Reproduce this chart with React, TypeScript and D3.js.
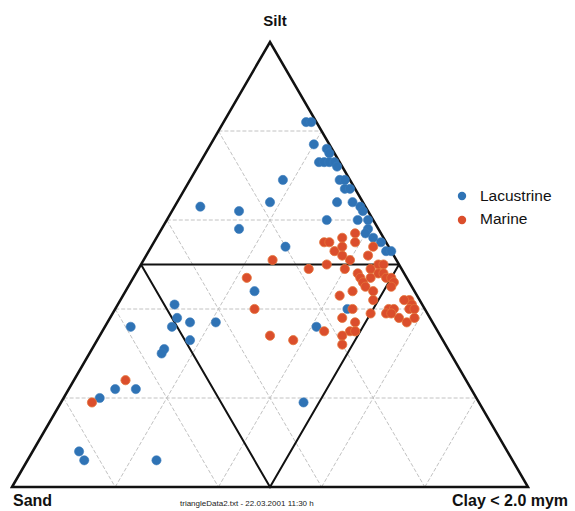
import React from "react";
import * as d3 from "d3";

// Ternary compositions in percent: [sand, silt, clay]
const lacustrine: [number, number, number][] = [
  [2, 82, 16], [1, 82, 17], [3, 77, 20], [1, 76, 23], [1, 75, 24],
  [4, 73, 23], [3, 73, 24], [2, 73, 25], [1, 73, 26], [1, 72, 27],
  [13, 69, 18], [2, 69, 29], [1, 69, 30], [2, 67, 31], [1, 67, 32],
  [5, 64, 31], [2, 64, 34], [1, 63, 36], [1, 62, 37], [9, 60, 31],
  [3, 60, 37], [1, 60, 39], [2, 58, 40], [3, 57, 40], [2, 56, 42],
  [1, 55, 44], [1, 53, 46], [0, 53, 47], [20, 54, 26], [18, 64, 18],
  [32, 63, 5], [25, 62, 13], [27, 58, 15], [31, 44, 25], [48, 41, 11],
  [49, 38, 13], [47, 37, 16], [59, 36, 5], [51, 36, 13], [42, 37, 21],
  [49, 33, 18], [55, 31, 14], [56, 30, 14], [69, 22, 9], [65, 22, 13],
  [73, 20, 7], [83, 8, 9], [83, 6, 11], [69, 6, 25], [23, 36, 41],
  [15, 40, 45], [34, 19, 47],
];

const marine: [number, number, number][] = [
  [12, 55, 33], [11, 55, 34], [8, 56, 36], [5, 57, 38], [6, 55, 39],
  [11, 53, 36], [9, 54, 37], [10, 52, 38], [9, 51, 40], [3, 54, 43],
  [5, 52, 43], [18, 49, 33], [14, 50, 36], [11, 49, 40], [9, 48, 43],
  [6, 49, 45], [4, 50, 46], [3, 50, 47], [5, 48, 47], [4, 48, 48],
  [7, 47, 46], [9, 47, 44], [9, 46, 45], [4, 47, 49], [3, 47, 50],
  [3, 46, 51], [12, 44, 44], [9, 45, 46], [4, 45, 51], [15, 43, 42],
  [8, 44, 48], [9, 42, 49], [2, 42, 56], [2, 41, 57], [3, 42, 55],
  [7, 40, 53], [6, 40, 54], [3, 40, 57], [2, 40, 58], [8, 39, 53],
  [6, 38, 56], [5, 37, 58], [3, 38, 59], [11, 39, 50], [14, 40, 46],
  [17, 38, 45], [15, 37, 48], [16, 35, 49], [17, 35, 48], [19, 34, 47],
  [20, 32, 48], [16, 35, 49], [22, 35, 43], [29, 33, 38], [33, 34, 33],
  [33, 40, 27], [31, 47, 22], [24, 51, 25], [66, 24, 10], [75, 19, 6],
  [7, 39, 54],
];

const seriesNames = ["Lacustrine", "Marine"];
const seriesColors = ["#2f73b5", "#db4e2c"];
const seriesStrokes = ["#3a7cbc", "#e3753a"];
const gridLevels = [20, 40, 60, 80];
const cornerLabels = ["Sand", "Silt", "Clay < 2.0 mym"];
const footerText = "triangleData2.txt - 22.03.2001 11:30 h";

const W = 575;
const H = 511;

export default function App() {
  const left = 12;
  const right = 528;
  const bottom = 487;
  const top = 42;

  const xs = d3.scaleLinear().domain([0, 100]).range([left, right]);
  const ys = d3.scaleLinear().domain([0, 100]).range([bottom, top]);

  const pt = (sand: number, silt: number, clay: number): [number, number] => {
    const tot = sand + silt + clay;
    const s = (silt / tot) * 100;
    const c = (clay / tot) * 100;
    return [xs(c + s / 2), ys(s)];
  };

  const line = d3.line<[number, number]>();

  const gridPaths: string[] = [];
  gridLevels.forEach((v) => {
    gridPaths.push(line([pt(100 - v, v, 0), pt(0, v, 100 - v)])!);
    gridPaths.push(line([pt(100 - v, 0, v), pt(0, 100 - v, v)])!);
    gridPaths.push(line([pt(v, 100 - v, 0), pt(v, 0, 100 - v)])!);
  });

  const frame = line([pt(100, 0, 0), pt(0, 100, 0), pt(0, 0, 100), pt(100, 0, 0)])! + "Z";
  const inner1 = line([pt(50, 50, 0), pt(0, 50, 50)])!;
  const inner2 = line([pt(50, 50, 0), pt(50, 0, 50), pt(0, 50, 50)])!;

  const font = "'Liberation Sans', Arial, Helvetica, sans-serif";

  return (
    <svg
      width={W}
      height={H}
      style={{ position: "fixed", left: 0, top: 0, background: "#fff" }}
      fontFamily={font}
    >
      <rect width={W} height={H} fill="#fff" />
      <g fill="none" stroke="#c2c2c2" strokeWidth={1} strokeDasharray="4,2">
        {gridPaths.map((d, i) => (
          <path key={i} d={d} />
        ))}
      </g>
      <path d={inner1} fill="none" stroke="#111" strokeWidth={2} />
      <path d={inner2} fill="none" stroke="#111" strokeWidth={2} strokeLinejoin="miter" />
      <path d={frame} fill="none" stroke="#111" strokeWidth={2.5} strokeLinejoin="miter" />

      <g>
        {lacustrine.map((d, i) => {
          const [x, y] = pt(d[0], d[1], d[2]);
          return (
            <circle key={"l" + i} cx={x} cy={y} r={4.6} fill={seriesColors[0]} stroke={seriesStrokes[0]} strokeWidth={0.6} />
          );
        })}
        {marine.map((d, i) => {
          const [x, y] = pt(d[0], d[1], d[2]);
          return (
            <circle key={"m" + i} cx={x} cy={y} r={4.6} fill={seriesColors[1]} stroke={seriesStrokes[1]} strokeWidth={0.8} />
          );
        })}
      </g>

      <text x={275} y={26} textAnchor="middle" fontSize={15} fontWeight="bold" fill="#111">
        {cornerLabels[1]}
      </text>
      <text x={13} y={506} fontSize={16} fontWeight="bold" fill="#111">
        {cornerLabels[0]}
      </text>
      <text x={452} y={506} fontSize={16} fontWeight="bold" fill="#111">
        {cornerLabels[2]}
      </text>
      <text x={180} y={506} fontSize={8} fill="#222">
        {footerText}
      </text>

      {seriesNames.map((n, i) => (
        <g key={n}>
          <circle cx={462} cy={196 + i * 24} r={4.2} fill={seriesColors[i]} />
          <text x={480} y={201 + i * 23} fontSize={15.5} fill="#111">
            {n}
          </text>
        </g>
      ))}
    </svg>
  );
}
